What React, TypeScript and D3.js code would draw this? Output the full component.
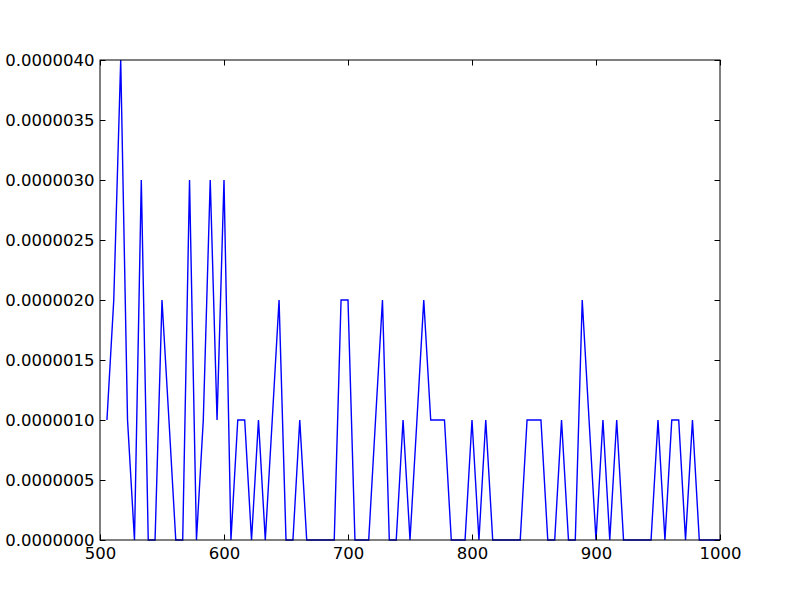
import React, { useEffect, useRef } from 'react';
import * as d3 from 'd3';

// x positions (right bin edges) and the values
const wavelengths = [
  505.6, 511.1, 516.7, 522.2, 527.8, 533.3, 538.9, 544.4, 550.0, 555.6,
  561.1, 566.7, 572.2, 577.8, 583.3, 588.9, 594.4, 600.0, 605.6, 611.1,
  616.7, 622.2, 627.8, 633.3, 638.9, 644.4, 650.0, 655.6, 661.1, 666.7,
  672.2, 677.8, 683.3, 688.9, 694.4, 700.0, 705.6, 711.1, 716.7, 722.2,
  727.8, 733.3, 738.9, 744.4, 750.0, 755.6, 761.1, 766.7, 772.2, 777.8,
  783.3, 788.9, 794.4, 800.0, 805.6, 811.1, 816.7, 822.2, 827.8, 833.3,
  838.9, 844.4, 850.0, 855.6, 861.1, 866.7, 872.2, 877.8, 883.3, 888.9,
  894.4, 900.0, 905.6, 911.1, 916.7, 922.2, 927.8, 933.3, 938.9, 944.4,
  950.0, 955.6, 961.1, 966.7, 972.2, 977.8, 983.3, 988.9, 994.4, 1000.0
];

const values = [
  1e-6, 2e-6, 4e-6, 1e-6, 0, 3e-6, 0, 0, 2e-6, 1e-6,
  0, 0, 3e-6, 0, 1e-6, 3e-6, 1e-6, 3e-6, 0, 1e-6,
  1e-6, 0, 1e-6, 0, 1e-6, 2e-6, 0, 0, 1e-6, 0,
  0, 0, 0, 0, 2e-6, 2e-6, 0, 0, 0, 1e-6,
  2e-6, 0, 0, 1e-6, 0, 1e-6, 2e-6, 1e-6, 1e-6, 1e-6,
  0, 0, 0, 1e-6, 0, 1e-6, 0, 0, 0, 0,
  0, 1e-6, 1e-6, 1e-6, 0, 0, 1e-6, 0, 0, 2e-6,
  1e-6, 0, 1e-6, 0, 1e-6, 0, 0, 0, 0, 0,
  1e-6, 0, 1e-6, 1e-6, 0, 1e-6, 0, 0, 0, 0
];

const xTicks = [500, 600, 700, 800, 900, 1000];
const yTicks = [0, 0.5e-6, 1e-6, 1.5e-6, 2e-6, 2.5e-6, 3e-6, 3.5e-6, 4e-6];

export default function App() {
  const ref = useRef<SVGSVGElement>(null);

  useEffect(() => {
    const width = 800;
    const height = 600;
    const margin = { top: 60, left: 100, bottom: 60, right: 80 };
    const iwidth = width - margin.left - margin.right;
    const iheight = height - margin.top - margin.bottom;
    const tick = 5.5;
    const font = 'DejaVu Sans';

    const svg = d3.select(ref.current);
    svg.selectAll('*').remove();

    const g = svg.append('g').attr('transform', `translate(${margin.left},${margin.top})`);

    const x = d3.scaleLinear().domain([500, 1000]).range([0, iwidth]);
    const y = d3.scaleLinear().domain([0, 4e-6]).range([iheight, 0]);

    const line = d3.line<number>()
      .x((d, i) => x(wavelengths[i]))
      .y(d => y(d));

    g.append('path')
      .datum(values)
      .attr('d', line)
      .attr('fill', 'none')
      .attr('stroke', '#0000ff')
      .attr('stroke-width', 1.4)
      .attr('stroke-linejoin', 'miter');

    // ticks inside, on all four sides (matplotlib classic)
    const bottom = g.append('g').attr('transform', `translate(0,${iheight})`)
      .call(d3.axisBottom(x).tickValues(xTicks).tickSizeInner(-tick).tickSizeOuter(0).tickPadding(tick + 2)
        .tickFormat(d => d3.format('d')(d as number)));
    const top = g.append('g')
      .call(d3.axisTop(x).tickValues(xTicks).tickSizeInner(-tick).tickSizeOuter(0).tickFormat(() => ''));
    const left = g.append('g')
      .call(d3.axisLeft(y).tickValues(yTicks).tickSizeInner(-tick).tickSizeOuter(0).tickPadding(tick)
        .tickFormat(d => d3.format('.7f')(d as number)));
    const right = g.append('g').attr('transform', `translate(${iwidth},0)`)
      .call(d3.axisRight(y).tickValues(yTicks).tickSizeInner(-tick).tickSizeOuter(0).tickFormat(() => ''));

    [bottom, top, left, right].forEach(a => {
      a.select('.domain').remove();
      a.selectAll('line').attr('stroke', '#000').attr('stroke-width', 1);
      a.selectAll('text').attr('fill', '#000').style('font-family', font).style('font-size', '16.5px');
    });

    g.append('rect')
      .attr('width', iwidth)
      .attr('height', iheight)
      .attr('fill', 'none')
      .attr('stroke', '#000')
      .attr('stroke-width', 1);
  }, []);

  return (
    <svg ref={ref} width={800} height={600}
      style={{ position: 'absolute', left: 0, top: 0, background: '#fff' }} />
  );
}
